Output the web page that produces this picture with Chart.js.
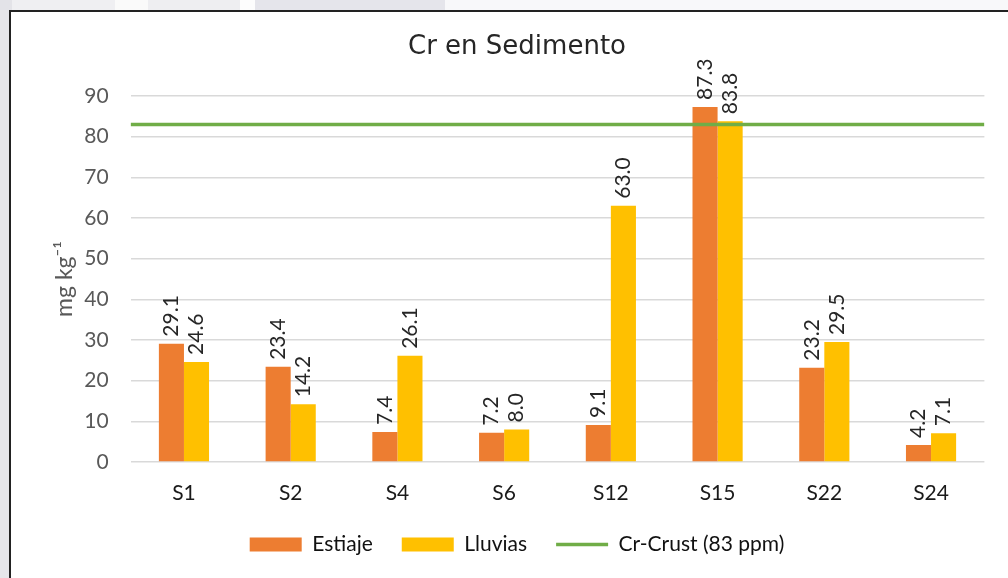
<!DOCTYPE html>
<html lang="es">
<head>
    <meta charset="UTF-8">
    <title>Cr en Sedimento</title>
    <script src="https://cdn.jsdelivr.net/npm/chart.js"></script>
    <style>
        body { margin: 0; width: 1008px; height: 578px; overflow: hidden; background: #e6e6ea; position: relative; }
        .tira { position: absolute; top: 0; height: 10px; }
        #marco { position: absolute; left: 9px; top: 10px; width: 1010px; height: 580px; background: #fff;
                 border-left: 2px solid #222; border-top: 2px solid #222; }
        #grafico { position: absolute; left: 11px; top: 12px; }
    </style>
</head>
<body>
    <div class="tira" style="left:0;width:12px;background:#e3e3e8"></div>
    <div class="tira" style="left:12px;width:103px;background:#efeff2"></div>
    <div class="tira" style="left:115px;width:33px;background:#fafafa"></div>
    <div class="tira" style="left:148px;width:92px;background:#eeeef1"></div>
    <div class="tira" style="left:240px;width:15px;background:#fdfdfd"></div>
    <div class="tira" style="left:255px;width:190px;background:#e5e5eb"></div>
    <div class="tira" style="left:445px;width:563px;background:#f8f8fa"></div>
    <div id="marco"></div>
    <canvas id="grafico" width="997" height="566"></canvas>

<script>
    // valores
    const muestras = ['S1', 'S2', 'S4', 'S6', 'S12', 'S15', 'S22', 'S24'];
    const estiaje = [29.1, 23.4, 7.4, 7.2, 9.1, 87.3, 23.2, 4.2];
    const lluvias = [24.6, 14.2, 26.1, 8.0, 63.0, 83.8, 29.5, 7.1];
    const crCrust = 83;
    const ejeYMax = 90;
    const ejeYPaso = 10;

    const fuente = 'Lato, "Open Sans", sans-serif';

    // eje x lineal (posicion = indice de la muestra) para que la linea
    // Cr-Crust cruce todo el area del grafico como en Excel
    const xMin = -0.5;
    const xMax = muestras.length - 0.5;

    function puntos(valores) {
        return valores.map(function (v, i) { return { x: i, y: v }; });
    }

    // etiquetas verticales encima de cada barra
    const etiquetasBarras = {
        id: 'etiquetasBarras',
        afterDatasetsDraw(chart) {
            const ctx = chart.ctx;
            ctx.save();
            ctx.font = '21px ' + fuente;
            ctx.fillStyle = '#262626';
            ctx.textAlign = 'left';
            ctx.textBaseline = 'middle';
            [0, 1].forEach(function (d) {
                const meta = chart.getDatasetMeta(d);
                meta.data.forEach(function (barra, i) {
                    const valor = chart.data.datasets[d].data[i].y;
                    ctx.save();
                    ctx.translate(barra.x, barra.y - 7);
                    ctx.rotate(-Math.PI / 2);
                    ctx.fillText(valor.toFixed(1), 0, 0);
                    ctx.restore();
                });
            });
            ctx.restore();
        }
    };

    const dados = {
        datasets: [{
            label: 'Estiaje',
            data: puntos(estiaje),
            backgroundColor: '#ED7D31',
            borderWidth: 0,
            categoryPercentage: 0.47,
            barPercentage: 1.0
        }, {
            label: 'Lluvias',
            data: puntos(lluvias),
            backgroundColor: '#FFC000',
            borderWidth: 0,
            categoryPercentage: 0.47,
            barPercentage: 1.0
        }, {
            type: 'line',
            label: 'Cr-Crust (83 ppm)',
            data: [{ x: xMin, y: crCrust }, { x: xMax, y: crCrust }],
            borderColor: '#70AD47',
            backgroundColor: '#70AD47',
            borderWidth: 3.5,
            pointRadius: 0,
            order: -1
        }]
    };

    const config = {
        type: 'bar',
        data: dados,
        plugins: [etiquetasBarras],
        options: {
            responsive: false,
            animation: false,
            layout: { padding: { left: 38.6, right: 23.6, top: 0, bottom: 13 } },
            plugins: {
                tooltip: { enabled: false },
                title: {
                    display: true,
                    text: 'Cr en Sedimento',
                    color: '#262626',
                    font: { family: '"DejaVu Sans", sans-serif', size: 26, weight: 'normal' },
                    padding: { top: 20, bottom: 32.8 }
                },
                legend: {
                    position: 'bottom',
                    labels: {
                        sort: (a, b) => a.datasetIndex - b.datasetIndex,
                        usePointStyle: true,
                        pointStyleWidth: 52,
                        boxHeight: 14,
                        padding: 29,
                        color: '#111',
                        font: { family: fuente, size: 21 },
                        generateLabels(chart) {
                            const itens = Chart.defaults.plugins.legend.labels.generateLabels(chart);
                            itens.forEach(function (it) {
                                if (it.datasetIndex === 2) {
                                    it.pointStyle = 'line';
                                    it.lineWidth = 3.5;
                                } else {
                                    it.pointStyle = 'rect';
                                    it.lineWidth = 0;
                                }
                            });
                            return itens;
                        }
                    }
                }
            },
            scales: {
                x: {
                    type: 'linear',
                    min: xMin,
                    max: xMax,
                    offset: false,
                    grid: { display: false },
                    border: { display: false },
                    afterBuildTicks(scale) {
                        scale.ticks = muestras.map(function (m, i) { return { value: i }; });
                    },
                    ticks: {
                        autoSkip: false,
                        maxRotation: 0,
                        color: '#1a1a1a',
                        padding: 11,
                        font: { family: fuente, size: 21 },
                        callback: function (valor) {
                            return muestras[valor];
                        }
                    },
                    afterFit(scale) { scale.height = 43; }
                },
                y: {
                    min: 0,
                    max: ejeYMax,
                    border: { display: false },
                    grid: { color: '#d9d9d9', lineWidth: 1.5, drawTicks: false },
                    ticks: { stepSize: ejeYPaso, color: '#595959', padding: 22, font: { family: fuente, size: 21 } },
                    title: {
                        display: true,
                        text: 'mg kg⁻¹',
                        color: '#595959',
                        font: { family: fuente, size: 23 },
                        padding: { top: 1, bottom: 0 }
                    },
                    afterFit(scale) { scale.width = 81; }
                }
            }
        }
    };

    new Chart(document.getElementById('grafico'), config);
</script>
</body>
</html>
